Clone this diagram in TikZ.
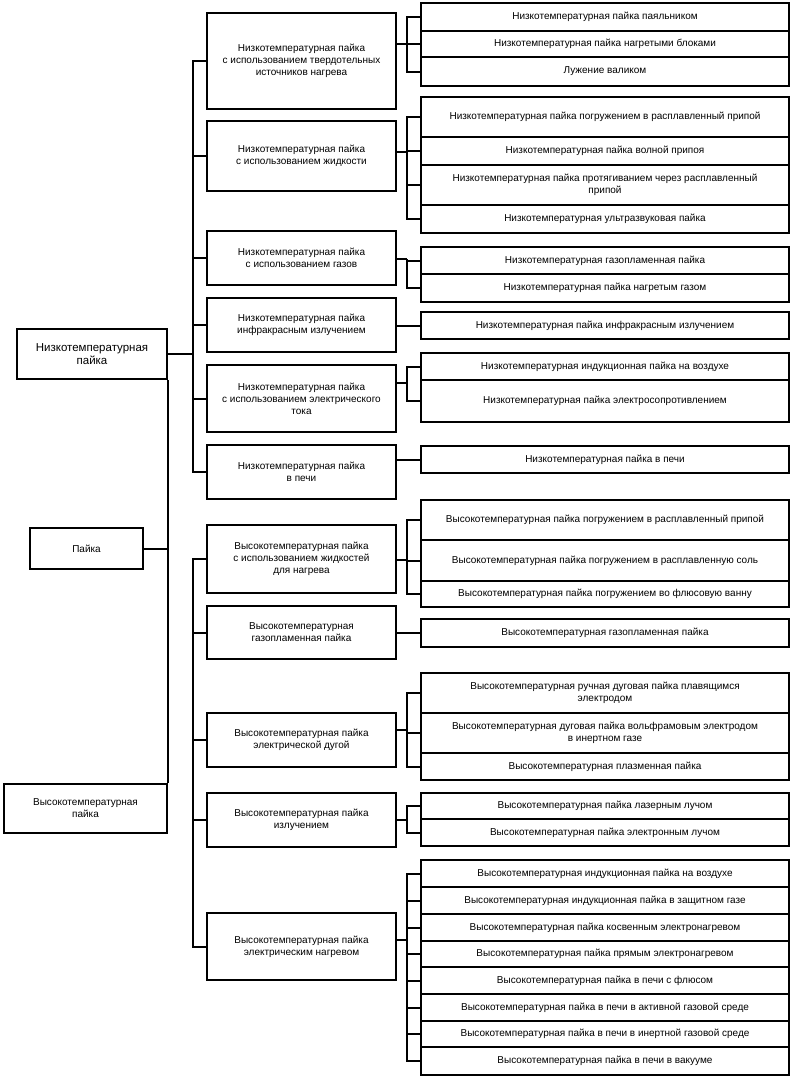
\documentclass[tikz,border=0pt]{standalone}
\usepackage{fontspec}
\setmainfont{Liberation Sans}
\newcommand\MidBox[4]{\node[box, minimum width=189pt, minimum height={#3-#2}] (#1) at (301.5,{(#2+#3)/2}) {#4};}
\newcommand\RBox[4]{\node[box, minimum width=368pt, minimum height={#3-#2}] (#1) at (605,{(#2+#3)/2}) {#4};}
\begin{document}
\begin{tikzpicture}[x=1pt,y=-1pt,
  box/.style={draw, line width=2pt, inner sep=0pt, align=center, font=\fontsize{10}{12}\selectfont},
  ln/.style={line width=2pt}]
\useasboundingbox (0,0) rectangle (793,1080);
% left column
\node[box, minimum width=150pt, minimum height=50pt, font=\fontsize{11.5}{13}\selectfont] (low) at (92,354) {Низкотемпературная\\пайка};
\node[box, minimum width=113pt, minimum height=41pt] (paika) at (86.5,548.5) {Пайка};
\node[box, minimum width=163pt, minimum height=49pt] (high) at (85.5,808.5) {Высокотемпературная\\пайка};
% middle column
\MidBox{m1}{13}{109}{Низкотемпературная пайка\\с использованием твердотельных\\источников нагрева}
\MidBox{m2}{121}{191}{Низкотемпературная пайка\\с использованием жидкости}
\MidBox{m3}{231}{285}{Низкотемпературная пайка\\с использованием газов}
\MidBox{m4}{298}{352}{Низкотемпературная пайка\\инфракрасным излучением}
\MidBox{m5}{365}{432}{Низкотемпературная пайка\\с использованием электрического\\тока}
\MidBox{m6}{445}{499}{Низкотемпературная пайка\\в печи}
\MidBox{m7}{525}{593}{Высокотемпературная пайка\\с использованием жидкостей\\для нагрева}
\MidBox{m8}{606}{659}{Высокотемпературная\\газопламенная пайка}
\MidBox{m9}{713}{767}{Высокотемпературная пайка\\электрической дугой}
\MidBox{m10}{793}{847}{Высокотемпературная пайка\\излучением}
\MidBox{m11}{913}{980}{Высокотемпературная пайка\\электрическим нагревом}
% right column
\RBox{r1a}{3}{31}{Низкотемпературная пайка паяльником}
\RBox{r1b}{31}{57}{Низкотемпературная пайка нагретыми блоками}
\RBox{r1c}{57}{86}{Лужение валиком}
\RBox{r2a}{97}{137}{Низкотемпературная пайка погружением в расплавленный припой}
\RBox{r2b}{137}{165}{Низкотемпературная пайка волной припоя}
\RBox{r2c}{165}{205}{Низкотемпературная пайка протягиванием через расплавленный\\припой}
\RBox{r2d}{205}{233}{Низкотемпературная ультразвуковая пайка}
\RBox{r3a}{247}{274}{Низкотемпературная газопламенная пайка}
\RBox{r3b}{274}{302}{Низкотемпературная пайка нагретым газом}
\RBox{r4}{312}{339}{Низкотемпературная пайка инфракрасным излучением}
\RBox{r5a}{353}{380}{Низкотемпературная индукционная пайка на воздухе}
\RBox{r5b}{380}{422}{Низкотемпературная пайка электросопротивлением}
\RBox{r6}{446}{473}{Низкотемпературная пайка в печи}
\RBox{r7a}{500}{540}{Высокотемпературная пайка погружением в расплавленный припой}
\RBox{r7b}{540}{581}{Высокотемпературная пайка погружением в расплавленную соль}
\RBox{r7c}{581}{607}{Высокотемпературная пайка погружением во флюсовую ванну}
\RBox{r8}{619}{647}{Высокотемпературная газопламенная пайка}
\RBox{r9a}{673}{713}{Высокотемпературная ручная дуговая пайка плавящимся\\электродом}
\RBox{r9b}{713}{753}{Высокотемпературная дуговая пайка вольфрамовым электродом\\в инертном газе}
\RBox{r9c}{753}{780}{Высокотемпературная плазменная пайка}
\RBox{r10a}{793}{819}{Высокотемпературная пайка лазерным лучом}
\RBox{r10b}{819}{846}{Высокотемпературная пайка электронным лучом}
\RBox{r11a}{860}{887}{Высокотемпературная индукционная пайка на воздухе}
\RBox{r11b}{887}{914}{Высокотемпературная индукционная пайка в защитном газе}
\RBox{r11c}{914}{941}{Высокотемпературная пайка косвенным электронагревом}
\RBox{r11d}{941}{967}{Высокотемпературная пайка прямым электронагревом}
\RBox{r11e}{967}{994}{Высокотемпературная пайка в печи с флюсом}
\RBox{r11f}{994}{1021}{Высокотемпературная пайка в печи в активной газовой среде}
\RBox{r11g}{1021}{1047}{Высокотемпературная пайка в печи в инертной газовой среде}
\RBox{r11h}{1047}{1075}{Высокотемпературная пайка в печи в вакууме}
% bracket junctions
\coordinate (b1) at (407,44);
\coordinate (b2) at (407,152);
\coordinate (b3) at (407,259);
\coordinate (b5) at (407,383);
\coordinate (b7) at (407,560);
\coordinate (b9) at (407,730);
\coordinate (b10) at (407,820);
\coordinate (b11) at (407,940);
\coordinate (lv) at (192.5,354);
\coordinate (hv) at (192.5,750);
% middle-to-right connectors
\draw[ln] (m1.east |- b1) -- (b1);
\foreach \n in {r1a,r1b,r1c} \draw[ln] (\n.west) -| (b1);
\draw[ln] (m2.east |- b2) -- (b2);
\foreach \n in {r2a,r2b,r2c,r2d} \draw[ln] (\n.west) -| (b2);
\draw[ln] (m3.east |- b3) -- (b3);
\foreach \n in {r3a,r3b} \draw[ln] (\n.west) -| (b3);
\draw[ln] (r4.west) -- (r4.west -| m4.east);
\draw[ln] (m5.east |- b5) -- (b5);
\foreach \n in {r5a,r5b} \draw[ln] (\n.west) -| (b5);
\draw[ln] (r6.west) -- (r6.west -| m6.east);
\draw[ln] (m7.east |- b7) -- (b7);
\foreach \n in {r7a,r7b,r7c} \draw[ln] (\n.west) -| (b7);
\draw[ln] (r8.west) -- (r8.west -| m8.east);
\draw[ln] (m9.east |- b9) -- (b9);
\foreach \n in {r9a,r9b,r9c} \draw[ln] (\n.west) -| (b9);
\draw[ln] (m10.east |- b10) -- (b10);
\foreach \n in {r10a,r10b} \draw[ln] (\n.west) -| (b10);
\draw[ln] (m11.east |- b11) -- (b11);
\foreach \n in {r11a,r11b,r11c,r11d,r11e,r11f,r11g,r11h} \draw[ln] (\n.west) -| (b11);
% left-to-middle connectors
\draw[ln] (low.east) -- (lv);
\foreach \n in {m1,m2,m3,m4,m5,m6} \draw[ln] (\n.west) -| (lv);
\foreach \n in {m7,m8,m9,m10,m11} \draw[ln] (\n.west) -| (hv);
\draw[ln] (paika.east) -- (paika.east -| low.east);
\draw[ln] (low.south east) -- (high.north east);
\end{tikzpicture}
\end{document}
